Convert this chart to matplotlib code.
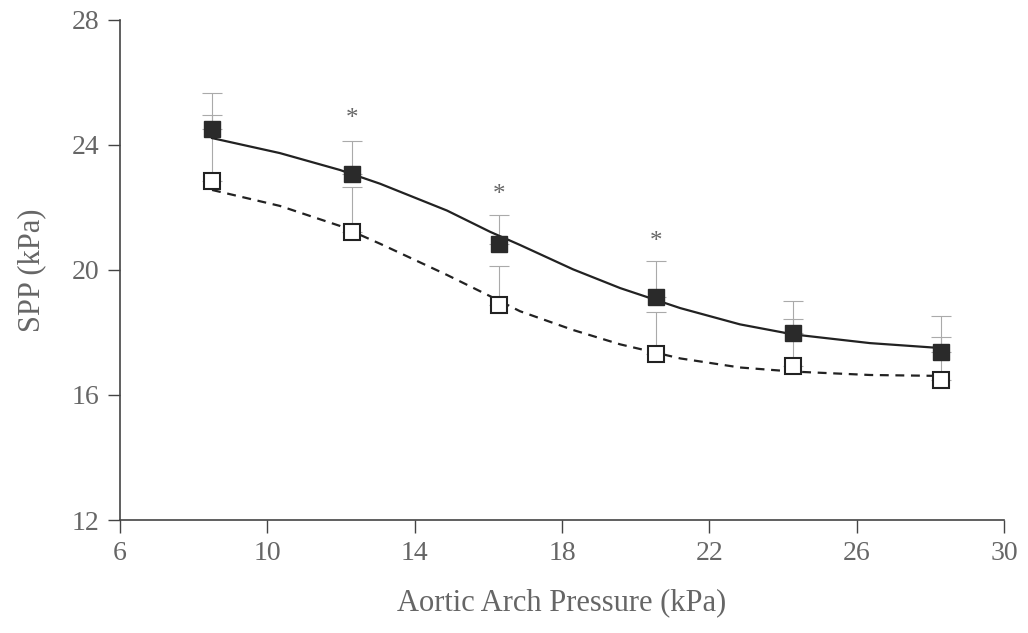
import matplotlib
matplotlib.use('Agg')
import matplotlib.pyplot as plt
import numpy as np

# measured points (kPa)
x_pts = [8.5, 12.3, 16.3, 20.55, 24.27, 28.3]
spp_filled = [24.51, 23.07, 20.83, 19.14, 17.98, 17.38]
spp_open = [22.85, 21.22, 18.88, 17.31, 16.93, 16.48]
top_filled = [25.66, 24.13, 21.76, 20.29, 19.01, 18.53]
top_open = [24.96, 22.66, 20.13, 18.66, 18.43, 17.86]

# fitted curves
curve_x = [8.5, 10.34, 11.97, 13.06, 14.88, 16.05, 16.86, 18.3, 19.58, 21.21,
           22.83, 24.27, 26.36, 28.3]
curve_filled = [24.22, 23.74, 23.2, 22.76, 21.9, 21.22, 20.8, 20.02, 19.42, 18.78,
                18.26, 17.94, 17.66, 17.5]
curve_open = [22.56, 22.05, 21.41, 20.84, 19.84, 19.16, 18.68, 18.08, 17.62, 17.17,
              16.88, 16.75, 16.64, 16.61]

# significance marks
star_x = [12.3, 16.3, 20.55]
star_y = [24.83, 22.4, 20.9]

plt.rcParams['font.family'] = ['Liberation Serif', 'DejaVu Serif']

fig = plt.figure(figsize=(10.28, 6.33), dpi=100)
ax = fig.add_axes([0.1167, 0.1785, 0.86, 0.79])

axis_col = '#444444'
text_col = '#666666'

err_f = np.array(top_filled) - np.array(spp_filled)
err_o = np.array(top_open) - np.array(spp_open)
ax.errorbar(x_pts, spp_open, yerr=[np.zeros(len(err_o)), err_o], fmt='none',
            ecolor='#aaaaaa', elinewidth=0.8, capsize=7, capthick=0.8, zorder=1)
ax.errorbar(x_pts, spp_filled, yerr=[np.zeros(len(err_f)), err_f], fmt='none',
            ecolor='#aaaaaa', elinewidth=0.8, capsize=7, capthick=0.8, zorder=1)

ax.plot(curve_x, curve_filled, '-', color='#222222', lw=1.6, zorder=2)
ax.plot(curve_x, curve_open, '--', color='#222222', lw=1.6, dashes=(4, 3), zorder=2)

ax.plot(x_pts, spp_filled, 's', ms=12, mfc='#2a2a2a', mec='#2a2a2a', zorder=3)
ax.plot(x_pts, spp_open, 's', ms=12, mfc='white', mec='#222222', mew=1.5, zorder=3)

for sx, sy in zip(star_x, star_y):
    ax.text(sx, sy, '*', ha='center', va='center', fontsize=18, color='#666666')

ax.set_xlim(6, 30)
ax.set_ylim(12, 28)
ax.set_xticks([6, 10, 14, 18, 22, 26, 30])
ax.set_yticks([12, 16, 20, 24, 28])

for side in ['top', 'right']:
    ax.spines[side].set_visible(False)
for side in ['left', 'bottom']:
    ax.spines[side].set_color(axis_col)
    ax.spines[side].set_linewidth(1.2)

ax.tick_params(direction='out', length=9, width=1.0, color=axis_col,
               labelsize=20, labelcolor=text_col, pad=6)

ax.set_xlabel('Aortic Arch Pressure (kPa)', fontsize=22, color=text_col, labelpad=16)
ax.set_ylabel('SPP (kPa)', fontsize=22, color=text_col, labelpad=18)

fig.savefig('out.png', dpi=100)
